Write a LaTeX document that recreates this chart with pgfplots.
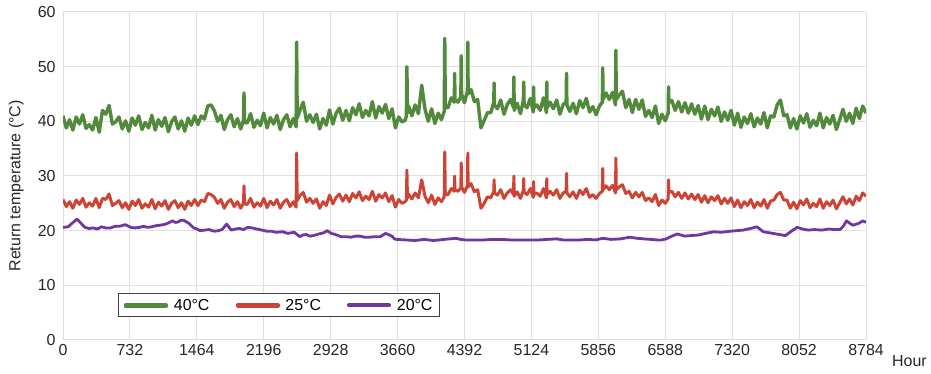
\documentclass[border=0pt]{standalone}
\usepackage{pgfplots}
\pgfplotsset{compat=1.18}
\usepackage{pgfplotstable}
\usepackage{fontspec}
\setmainfont{Liberation Sans}
\definecolor{cgreen}{RGB}{80,138,58}
\definecolor{cred}{RGB}{206,68,52}
\definecolor{cpurple}{RGB}{112,55,158}
\definecolor{cgrid}{RGB}{224,224,224}

\pgfplotstableread{
x g r
0 41.0 25.7
36 38.8 24.4
72 40.3 25.3
108 38.4 24.1
144 40.8 25.6
180 39.5 24.8
216 41.2 25.9
252 38.7 24.3
288 39.4 25.1
324 38.4 24.5
360 40.7 25.9
396 38.0 24.2
432 42.0 25.9
468 41.3 25.7
504 42.9 26.7
540 39.5 24.6
576 39.9 25.0
612 40.8 25.5
648 38.6 24.2
684 40.1 25.1
720 38.2 23.9
756 40.6 25.4
792 39.3 24.6
828 41.0 25.7
864 38.5 24.1
900 39.8 24.9
936 38.8 24.3
972 41.1 25.7
1008 38.4 24.0
1044 40.3 25.2
1080 39.1 24.5
1116 40.7 25.5
1152 38.1 23.9
1188 39.9 25.0
1224 40.8 25.5
1260 38.6 24.2
1296 40.1 25.1
1332 38.2 23.9
1368 40.6 25.4
1404 39.3 24.6
1440 41.0 25.7
1476 39.4 24.6
1512 41.0 25.6
1548 40.4 25.3
1584 42.8 26.8
1620 43.0 26.6
1656 41.9 26.1
1692 40.0 25.0
1728 41.1 25.7
1764 38.5 24.1
1800 40.3 25.2
1836 41.2 25.7
1872 39.0 24.4
1908 40.5 25.3
1944 38.6 24.1
1974 40.2 25.1
1980 45.2 28.2
1986 39.8 24.9
2016 39.7 24.8
2052 41.4 25.9
2088 38.9 24.3
2124 40.2 25.1
2160 39.2 24.5
2196 41.5 25.9
2232 38.8 24.2
2268 40.7 25.4
2304 39.5 24.7
2340 41.1 25.7
2376 38.5 24.1
2412 40.3 25.2
2448 41.2 25.7
2484 39.0 24.4
2520 40.5 25.3
2550 39.0 24.3
2556 54.5 34.2
2562 40.6 25.5
2592 42.0 26.4
2628 43.5 27.0
2664 40.0 25.2
2700 41.2 25.9
2736 39.8 25.0
2772 41.3 25.8
2808 38.6 24.1
2844 40.5 25.3
2880 39.3 24.6
2916 42.1 26.5
2952 39.5 24.9
2988 41.5 26.1
3024 42.4 26.7
3060 40.2 25.4
3096 42.0 26.5
3132 40.1 25.3
3168 42.5 26.8
3204 41.2 26.0
3240 43.2 27.1
3276 40.7 25.5
3312 42.0 26.3
3348 41.0 25.7
3384 43.6 27.2
3420 40.6 25.4
3456 42.7 26.6
3492 41.5 26.0
3528 43.1 26.9
3564 40.5 25.3
3600 42.3 26.4
3636 38.8 24.3
3672 40.8 25.7
3708 39.9 25.0
3744 40.2 25.3
3756 41.0 25.6
3762 50.0 31.1
3768 41.5 26.0
3780 42.8 26.7
3816 41.0 25.8
3852 43.0 26.9
3888 41.4 26.0
3924 46.6 29.3
3960 42.2 26.3
3996 40.0 25.1
4032 42.3 26.5
4068 39.6 24.8
4104 41.5 26.0
4140 40.3 25.3
4170 41.8 26.2
4176 55.2 34.4
4182 42.5 26.6
4212 42.5 26.6
4248 44.3 27.7
4280 43.5 27.2
4284 48.8 30.0
4288 44.0 27.5
4320 43.5 27.2
4352 44.5 27.8
4356 52.0 32.4
4360 45.0 28.0
4392 43.4 27.0
4424 45.5 28.2
4428 54.5 34.2
4432 45.0 28.0
4464 45.8 28.6
4500 43.6 27.1
4536 44.0 27.5
4572 38.8 24.1
4608 40.2 25.0
4644 41.6 26.2
4680 41.6 26.0
4712 43.5 27.2
4716 47.0 29.3
4720 43.0 26.9
4752 42.3 26.5
4788 43.9 27.5
4824 41.3 25.9
4860 43.1 26.9
4896 44.0 27.5
4928 42.5 26.6
4932 48.1 30.0
4936 42.0 26.3
4968 43.3 27.1
5004 41.4 25.9
5036 43.8 27.4
5040 47.2 29.5
5044 43.0 27.0
5076 42.5 26.6
5112 44.2 27.7
5144 41.7 26.1
5148 46.3 29.0
5152 42.5 26.6
5184 43.0 26.9
5220 42.0 26.3
5256 44.3 27.7
5288 41.6 26.0
5292 47.2 29.5
5296 42.5 26.6
5328 43.5 27.2
5364 42.3 26.5
5400 43.9 27.5
5436 41.3 25.9
5472 43.1 26.9
5504 43.5 27.2
5508 48.8 30.5
5512 43.0 26.9
5544 41.8 26.2
5580 43.3 27.1
5616 41.4 25.9
5652 43.8 27.4
5688 42.5 26.6
5724 44.2 27.7
5760 41.7 26.1
5796 42.7 26.6
5832 41.2 25.9
5868 42.8 26.8
5900 43.5 27.2
5904 49.8 31.4
5908 44.0 27.5
5940 45.2 28.2
5976 44.0 27.5
6012 45.3 28.3
6044 43.0 26.9
6048 53.0 33.3
6052 44.0 27.5
6084 44.8 28.0
6120 45.5 28.4
6156 42.5 26.8
6192 44.0 27.2
6228 41.6 26.0
6264 44.0 27.0
6300 42.2 26.2
6336 43.9 27.0
6372 40.9 25.5
6408 42.0 26.0
6444 40.7 25.3
6480 42.8 26.6
6516 39.6 24.6
6552 41.3 25.6
6588 40.1 25.0
6620 41.5 25.8
6624 46.3 29.3
6628 43.5 27.0
6660 43.8 27.2
6696 42.0 26.2
6732 43.6 27.0
6768 41.7 25.9
6804 43.4 26.9
6840 41.5 25.8
6876 43.2 26.7
6912 41.3 25.7
6948 42.9 26.6
6984 40.4 25.2
7020 42.8 26.4
7056 40.3 25.1
7092 42.2 26.2
7128 41.0 25.5
7164 42.6 26.4
7200 40.0 24.9
7236 41.7 25.9
7272 40.2 25.0
7308 42.0 26.0
7344 39.3 24.4
7380 41.5 25.6
7416 38.9 24.2
7452 40.8 25.3
7488 39.6 24.6
7524 41.4 25.7
7560 39.0 24.2
7596 40.6 25.2
7632 39.5 24.5
7668 41.6 25.7
7704 38.8 24.1
7740 41.0 25.4
7776 40.8 25.6
7812 43.0 26.6
7848 43.9 27.0
7884 41.0 25.6
7920 41.2 25.6
7956 38.8 24.1
7992 40.5 25.2
8028 38.6 24.0
8064 41.0 25.5
8100 39.7 24.7
8136 41.4 25.8
8172 38.9 24.2
8208 40.2 25.0
8244 39.2 24.4
8280 41.5 25.8
8316 38.8 24.1
8352 40.7 25.3
8388 39.5 24.6
8424 41.1 25.6
8460 38.5 24.0
8496 40.3 25.1
8532 42.2 26.2
8568 40.0 24.9
8604 41.5 25.8
8640 39.6 24.7
8676 42.4 26.3
8712 40.5 25.5
8748 42.8 26.9
8784 41.5 26.3
}\gr

\pgfplotstableread{
x p
0 20.6
55 20.7
110 21.5
153 22.1
200 21.3
240 20.6
285 20.4
330 20.5
375 20.3
420 20.7
470 20.5
520 20.5
570 20.8
620 20.8
680 21.1
740 20.6
790 20.5
835 20.6
880 20.8
925 20.6
970 20.7
1015 20.9
1060 21.0
1100 21.1
1140 21.3
1200 21.8
1230 21.5
1260 21.6
1290 21.9
1320 21.9
1350 21.6
1380 21.3
1430 20.5
1465 20.3
1500 20.0
1550 20.1
1600 20.2
1630 20.0
1660 19.9
1700 20.0
1740 20.2
1770 20.8
1790 21.2
1840 20.1
1885 20.3
1930 20.4
1975 20.2
2020 20.6
2070 20.5
2120 20.3
2175 20.1
2230 19.9
2280 19.9
2330 19.7
2400 19.8
2460 19.5
2530 19.7
2590 18.9
2625 19.2
2660 19.3
2700 19.0
2740 19.1
2800 19.4
2850 19.6
2890 20.0
2935 19.5
2980 19.3
3040 18.9
3100 18.9
3150 18.8
3200 19.0
3250 19.0
3300 18.8
3350 18.8
3410 18.9
3470 18.9
3500 19.2
3530 19.5
3570 19.2
3600 19.0
3625 18.5
3650 18.4
3750 18.3
3850 18.2
3950 18.4
4050 18.2
4120 18.3
4170 18.4
4230 18.5
4300 18.6
4350 18.4
4400 18.3
4500 18.3
4600 18.3
4700 18.4
4800 18.4
4900 18.3
5000 18.3
5100 18.3
5200 18.3
5300 18.4
5400 18.5
5470 18.3
5550 18.3
5650 18.3
5750 18.4
5830 18.3
5900 18.6
5950 18.5
6000 18.4
6100 18.5
6200 18.8
6280 18.6
6350 18.5
6430 18.4
6500 18.3
6550 18.3
6600 18.5
6660 19.0
6720 19.4
6760 19.2
6800 19.0
6870 19.1
6950 19.2
7030 19.5
7120 19.8
7200 19.7
7300 19.9
7370 20.0
7440 20.1
7520 20.4
7590 20.7
7630 20.2
7660 19.8
7730 19.6
7800 19.4
7900 19.1
7960 19.8
8030 20.6
8090 20.3
8150 20.1
8220 20.2
8300 20.1
8380 20.3
8440 20.2
8500 20.2
8540 20.9
8570 21.8
8610 21.3
8640 21.0
8700 21.3
8750 21.8
8784 21.5
}\pu

\begin{document}
\begin{tikzpicture}[font=\fontsize{16}{19}\selectfont]
\begin{axis}[
  scale only axis,
  width=803bp, height=328bp,
  xmin=0, xmax=8784, ymin=0, ymax=60,
  xtick={0,732,1464,2196,2928,3660,4392,5124,5856,6588,7320,8052,8784},
  ytick={0,10,20,30,40,50,60},
  scaled x ticks=false,
  /pgf/number format/1000 sep={},
  /pgf/number format/assume math mode=true,
  grid=major,
  major grid style={cgrid, line width=1bp},
  axis line style={draw=none},
  major tick length=0pt,
  tick label style={font=\fontsize{16}{19}\selectfont, text=black!85},
  yticklabel style={xshift=-4bp},
  xticklabel style={yshift=-1bp},
  xlabel={Hour},
  xlabel style={at={(axis description cs:1,0)}, anchor=north west, inner sep=0pt, xshift=26bp, yshift=-15bp, text=black!85},
  ylabel={Return temperature (\textdegree C)},
  ylabel style={at={(axis description cs:-0.0486,0.47)}, anchor=south, inner sep=0pt, text=black!85},
  legend columns=3,
  legend style={at={(axis description cs:0.0685,0.07)}, anchor=south west,
    draw=black!75, line width=1bp, fill=white, inner xsep=5bp, inner ysep=3bp,
    font=\fontsize{16}{19}\selectfont,
    /tikz/every odd column/.append style={column sep=4bp},
    /tikz/every even column/.append style={column sep=24bp}},
  legend image code/.code={\fill[fill=.] (0bp,-0.8bp) rectangle (41bp,0.8bp);},
]
\addplot[cgreen, line width=3.4bp, line join=round] table[x=x,y=g]{\gr};
\addlegendentry{40\textdegree C}
\addplot[cred, line width=3.0bp, line join=round] table[x=x,y=r]{\gr};
\addlegendentry{25\textdegree C}
\addplot[cpurple, line width=2.8bp, line join=round] table[x=x,y=p]{\pu};
\addlegendentry{20\textdegree C}
\end{axis}
\path ([shift={(-63bp,-34bp)}]current axis.south west) rectangle ([shift={(65bp,12bp)}]current axis.north east);
\end{tikzpicture}
\end{document}
